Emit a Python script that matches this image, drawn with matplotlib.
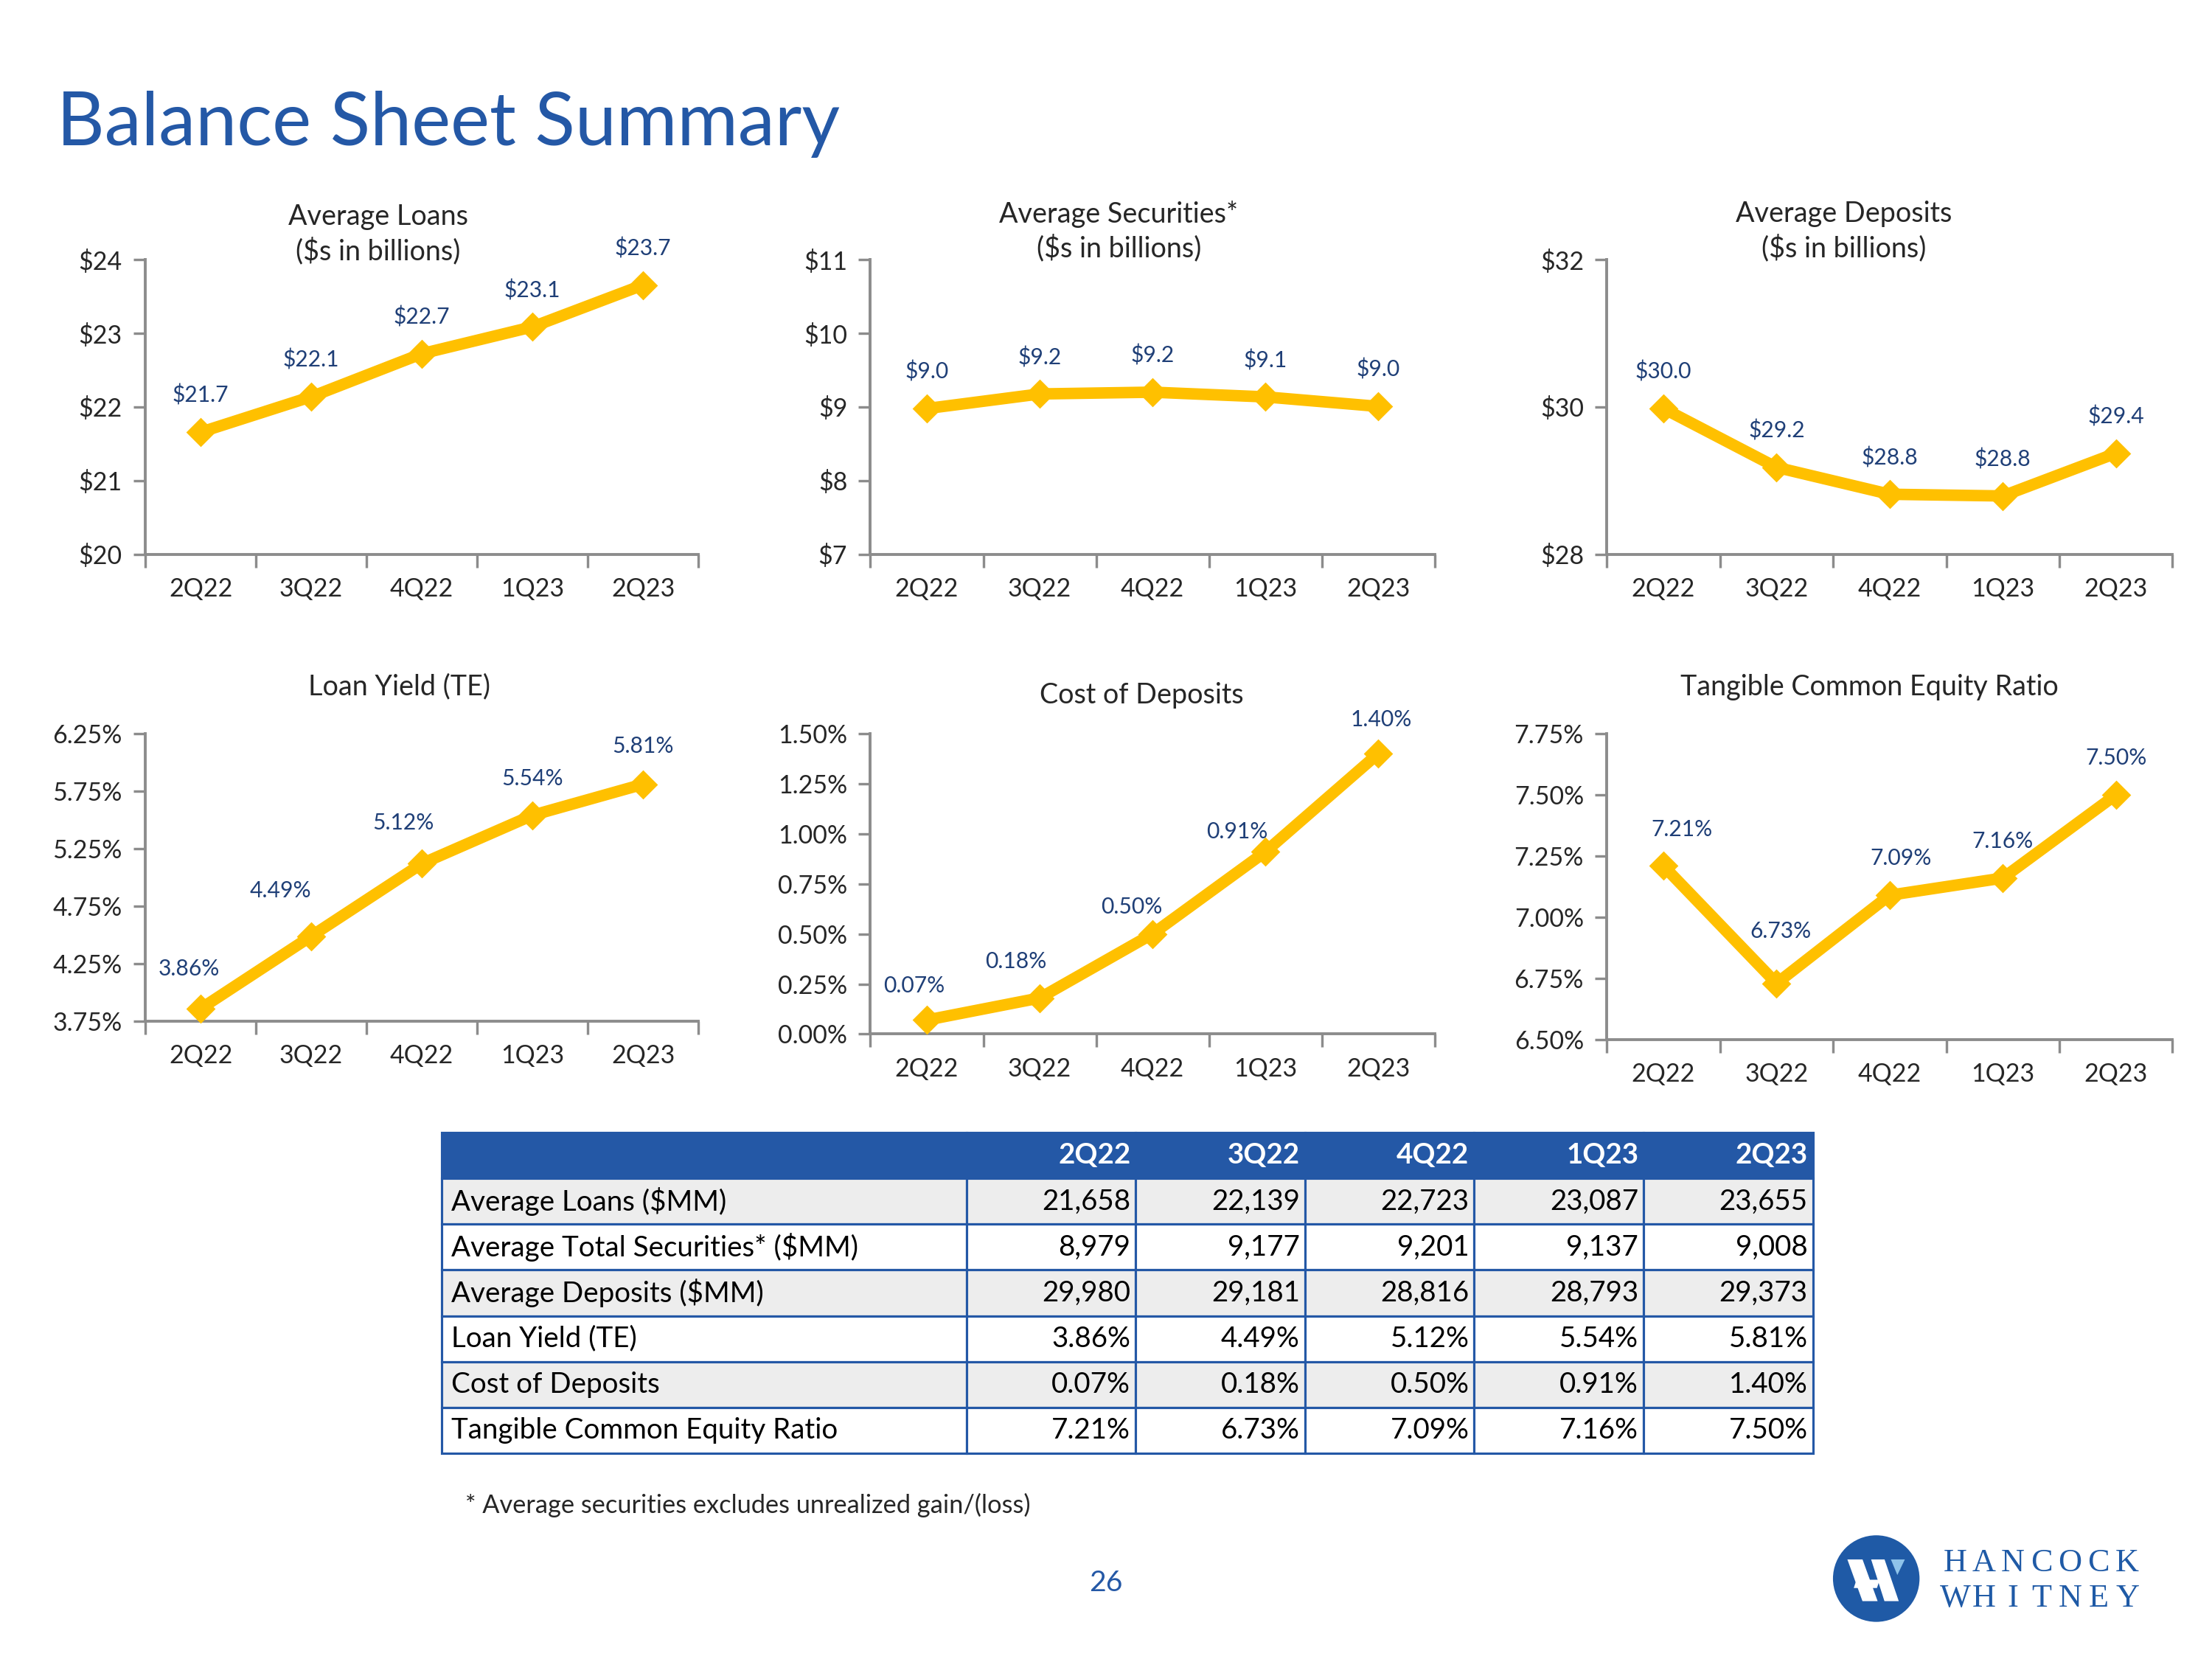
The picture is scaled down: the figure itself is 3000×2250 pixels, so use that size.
import numpy as np
import matplotlib
matplotlib.use("Agg")
import matplotlib.pyplot as plt
from matplotlib.patches import Circle, Polygon
from matplotlib.ticker import FuncFormatter

plt.rcParams['font.family'] = ['Lato', 'DejaVu Sans']

# data
quarters = ['2Q22', '3Q22', '4Q22', '1Q23', '2Q23']
avg_loans = [21.658, 22.139, 22.723, 23.087, 23.655]
avg_securities = [8.979, 9.177, 9.201, 9.137, 9.008]
avg_deposits = [29.980, 29.181, 28.816, 28.793, 29.373]
loan_yield = [3.86, 4.49, 5.12, 5.54, 5.81]
cost_deposits = [0.07, 0.18, 0.50, 0.91, 1.40]
tce_ratio = [7.21, 6.73, 7.09, 7.16, 7.50]

table_rows = ['Average Loans ($MM)', 'Average Total Securities* ($MM)',
              'Average Deposits ($MM)', 'Loan Yield (TE)', 'Cost of Deposits',
              'Tangible Common Equity Ratio']
table_vals = [
    ['21,658', '22,139', '22,723', '23,087', '23,655'],
    ['8,979', '9,177', '9,201', '9,137', '9,008'],
    ['29,980', '29,181', '28,816', '28,793', '29,373'],
    ['3.86%', '4.49%', '5.12%', '5.54%', '5.81%'],
    ['0.07%', '0.18%', '0.50%', '0.91%', '1.40%'],
    ['7.21%', '6.73%', '7.09%', '7.16%', '7.50%'],
]

GOLD = '#FFC000'
BLUE = '#2458A6'
LBL = '#1F3F77'
GRAY = '#8C8C8C'
TXT = '#262626'

W, H = 1568, 1176  # layout grid of the slide
PT = 16 * 72 / W   # points per grid px

fig = plt.figure(figsize=(16, 12), dpi=187.5)
fig.patch.set_facecolor('white')

fig.text(40 / W, 1 - 88 / H, 'Balance Sheet Summary', fontsize=38.5, color=BLUE,
         ha='left', va='center')


def line_chart(box, vals, ylim, yticks, fmt, labfmt, title, title_xy, dx, dy):
    l, t, r, b = box
    ax = fig.add_axes([l / W, 1 - b / H, (r - l) / W, (b - t) / H])
    x = np.arange(len(vals))
    ax.plot(x, vals, color=GOLD, lw=6, marker='D', ms=10, mec=GOLD, mfc=GOLD,
            clip_on=False, zorder=3)
    ax.set_xlim(-0.5, len(vals) - 0.5)
    ax.set_ylim(*ylim)
    ax.set_yticks(yticks)
    ax.yaxis.set_major_formatter(FuncFormatter(fmt))
    ax.set_xticks(x)
    ax.set_xticklabels(quarters)
    ax.set_xticks(np.arange(-0.5, len(vals)), minor=True)
    ax.tick_params(axis='x', which='major', length=0, pad=12, labelsize=13,
                   labelcolor=TXT)
    ax.tick_params(axis='x', which='minor', length=7, width=1.3, color=GRAY)
    ax.tick_params(axis='y', length=6, width=1.3, color=GRAY, labelsize=13,
                   labelcolor=TXT, pad=6)
    for s in ['top', 'right']:
        ax.spines[s].set_visible(False)
    for s in ['left', 'bottom']:
        ax.spines[s].set_color(GRAY)
        ax.spines[s].set_linewidth(1.5)
    for i, v in enumerate(vals):
        ax.annotate(labfmt(v), (i, v), xytext=(dx[i] * PT, dy[i] * PT),
                    textcoords='offset points', ha='center', va='center',
                    fontsize=11.5, color=LBL, annotation_clip=False)
    fig.text(title_xy[0] / W, 1 - title_xy[1] / H, title, fontsize=14.5,
             color=TXT, ha='center', va='center', linespacing=1.3)
    return ax


dollar = lambda v, p=None: '$%d' % round(v)
pct = lambda v, p=None: '%.2f%%' % v
dlab = lambda v: '$%.1f' % v
plab = lambda v: '%.2f%%' % v

line_chart((103, 184, 495, 393), avg_loans, (20, 24), [20, 21, 22, 23, 24],
           dollar, dlab, 'Average Loans\n($s in billions)', (268, 166),
           [0] * 5, [26] * 5)
line_chart((617, 184, 1017, 393), avg_securities, (7, 11), [7, 8, 9, 10, 11],
           dollar, dlab, 'Average Securities*\n($s in billions)', (793, 164),
           [0] * 5, [26] * 5)
line_chart((1139, 184, 1540, 393), avg_deposits, (28, 32), [28, 30, 32],
           dollar, dlab, 'Average Deposits\n($s in billions)', (1307, 164),
           [0] * 5, [26] * 5)
line_chart((103, 520, 495, 724), loan_yield, (3.75, 6.25),
           [3.75, 4.25, 4.75, 5.25, 5.75, 6.25], pct, plab,
           'Loan Yield (TE)', (283, 487),
           [-8, -22, -13, 0, 0], [28, 32, 29, 26, 27])
line_chart((617, 520, 1017, 733), cost_deposits, (0, 1.5),
           [0, 0.25, 0.5, 0.75, 1.0, 1.25, 1.5], pct, plab,
           'Cost of Deposits', (809, 493),
           [-9, -17, -15, -20, 2], [24, 26, 19, 14, 24])
line_chart((1139, 520, 1540, 737), tce_ratio, (6.5, 7.75),
           [6.5, 6.75, 7.0, 7.25, 7.5, 7.75], pct, plab,
           'Tangible Common Equity Ratio', (1325, 487),
           [13, 3, 8, 0, 0], [26, 37, 26, 26, 26])

# table
tab_ax = fig.add_axes([313 / W, 1 - 1030 / H, 972 / W, 227 / H])
tab_ax.axis('off')
cells = [[''] + quarters] + [[n] + v for n, v in zip(table_rows, table_vals)]
tbl = tab_ax.table(cellText=cells, bbox=[0, 0, 1, 1], cellLoc='right')
tbl.auto_set_font_size(False)
col_w = [372 / 972] + [120 / 972] * 5
for (r, c), cell in tbl.get_celld().items():
    cell.set_width(col_w[c])
    cell.set_edgecolor(BLUE)
    cell.set_linewidth(1.2)
    cell.PAD = 0.03 if c > 0 else 0.018
    txt = cell.get_text()
    txt.set_fontsize(14.8)
    txt.set_color('black')
    if r == 0:
        cell.set_facecolor(BLUE)
        txt.set_color('white')
        txt.set_fontweight('bold')
    else:
        cell.set_facecolor('#EDEDED' if r % 2 == 1 else 'white')
    if c == 0:
        txt.set_ha('left')
        cell._loc = 'left'

fig.text(330 / W, 1 - 1067 / H, '* Average securities excludes unrealized gain/(loss)',
         fontsize=13.2, color=TXT, ha='left', va='center')
fig.text(784 / W, 1 - 1122 / H, '26', fontsize=15, color=BLUE, ha='center',
         va='center')

# logo
LOGO = '#1F5AA6'
lg = fig.add_axes([1297 / W, 1 - 1152 / H, 66 / W, 66 / H])
lg.set_xlim(-1.1, 1.1)
lg.set_ylim(-1.1, 1.1)
lg.axis('off')
lg.add_patch(Circle((0, 0), 1, color=LOGO))
lg.add_patch(Polygon([(-0.65, 0.43), (-0.34, 0.43), (0.0, -0.51), (-0.31, -0.51)],
                     color='white'))
lg.add_patch(Polygon([(-0.09, 0.43), (0.18, 0.43), (0.5, -0.51), (0.21, -0.51)],
                     color='white'))
lg.add_patch(Polygon([(-0.45, -0.05), (0.05, -0.05), (0.0, -0.2), (-0.5, -0.2)],
                     color='white'))
lg.add_patch(Polygon([(0.38, 0.43), (0.64, 0.43), (0.5, 0.14)], color='#8EC3EA'))

for word, yy in [('HANCOCK', 1108), ('WHITNEY', 1133)]:
    for ch, xx in zip(word, np.linspace(1386, 1508, len(word))):
        fig.text(xx / W, 1 - yy / H, ch, fontsize=17, color=LOGO,
                 family='Liberation Serif', ha='center', va='center')

fig.savefig('out.png', dpi=187.5, facecolor='white')
